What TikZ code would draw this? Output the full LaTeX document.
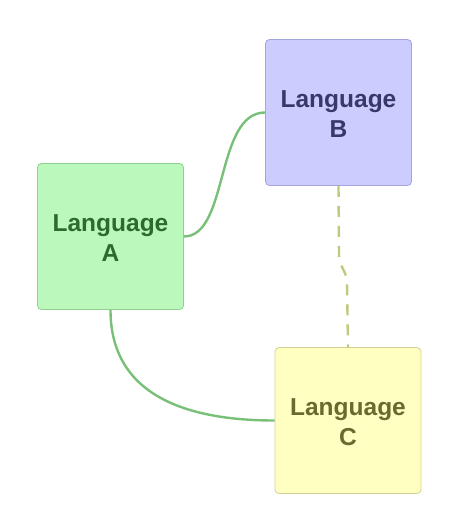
\documentclass[tikz,border=0pt]{standalone}
\usepackage{fontspec}
\setmainfont{Liberation Sans}
\begin{document}
\begin{tikzpicture}[x=1pt,y=-1pt,
  box/.style={draw, rounded corners=4pt, minimum width=146pt, minimum height=146pt, line width=0.8pt,
    align=center, font=\fontsize{24.5}{30}\selectfont\bfseries, inner sep=0pt},
  link/.style={draw=lnk, line width=2.4pt},
  dlink/.style={draw=dsh, line width=2.4pt, dash pattern=on 11pt off 9pt}]
\definecolor{afill}{HTML}{BBF8BB}\definecolor{adraw}{HTML}{8FD08F}\definecolor{atext}{HTML}{2D6B2D}
\definecolor{bfill}{HTML}{CCCCFF}\definecolor{bdraw}{HTML}{A3A3DD}\definecolor{btext}{HTML}{38386A}
\definecolor{cfill}{HTML}{FFFFC2}\definecolor{cdraw}{HTML}{D2D296}\definecolor{ctext}{HTML}{6A6A30}
\definecolor{lnk}{HTML}{78C078}\definecolor{dsh}{HTML}{C2C87E}
\newcommand{\boxtext}[1]{\raisebox{-10pt}[0pt][0pt]{\begin{tabular}{@{}c@{}}#1\end{tabular}}}
\useasboundingbox (0,0) rectangle (474,521);
\node[box, fill=afill, draw=adraw, text=atext] (A) at (110.5,236.5) {\boxtext{Language\\A}};
\node[box, fill=bfill, draw=bdraw, text=btext] (B) at (338.5,112.5) {\boxtext{Language\\B}};
\node[box, fill=cfill, draw=cdraw, text=ctext] (C) at (348,420.5) {\boxtext{Language\\C}};
\coordinate (k1) at (339,255);
\coordinate (k2) at (347,283);
\path[link] (A.east) .. controls +(45,0) and +(-50,0) .. (B.west);
\path[link] (A.south) .. controls +(0,90) and +(-80,0) .. (C.west);
\path[dlink] (B.south) -- (k1) .. controls +(0,12) and +(0,-12) .. (k2) -- (C.north);
\end{tikzpicture}
\end{document}
